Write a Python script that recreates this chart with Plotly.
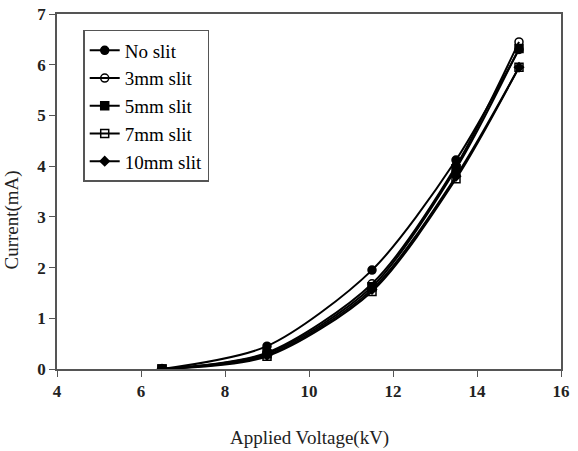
import plotly.graph_objects as go

voltage = [6.5, 9, 11.5, 13.5, 15]
no_slit = [0.0, 0.45, 1.95, 4.12, 6.30]
slit_3mm = [0.0, 0.32, 1.68, 4.00, 6.45]
slit_5mm = [0.0, 0.30, 1.62, 3.95, 6.32]
slit_7mm = [0.0, 0.25, 1.53, 3.75, 5.95]
slit_10mm = [0.0, 0.27, 1.57, 3.80, 5.95]

x_ticks = [4, 6, 8, 10, 12, 14, 16]
y_ticks = [0, 1, 2, 3, 4, 5, 6, 7]

names = ["No slit", "3mm slit", "5mm slit", "7mm slit", "10mm slit"]
series = [no_slit, slit_3mm, slit_5mm, slit_7mm, slit_10mm]
symbols = ["circle", "circle-open", "square", "square-open", "diamond"]
sizes = [8, 8, 8, 8, 7]

SERIF = "Times New Roman, Liberation Serif, serif"

fig = go.Figure()
for i, (nm, ys) in enumerate(zip(names, series)):
    fig.add_trace(go.Scatter(
        x=voltage, y=ys, name=nm, mode="lines+markers",
        line=dict(color="black", width=2, shape="spline", smoothing=0.8),
        marker=dict(symbol=symbols[i], size=sizes[i], color="black",
                    line=dict(color="black", width=1.5)),
        legendgroup=f"g{i}",
    ))

tick_font = dict(family=SERIF, size=17, color="#222", weight="bold")
fig.update_layout(
    width=578, height=451,
    margin=dict(l=57, r=17, t=14, b=82),
    paper_bgcolor="white", plot_bgcolor="white",
    font=dict(family=SERIF, color="black"),
    showlegend=True,
    legend=dict(
        x=0.052, y=0.955, xanchor="left", yanchor="top",
        bgcolor="white", bordercolor="#555", borderwidth=1.5,
        font=dict(family=SERIF, size=19, color="black"),
        tracegroupgap=0, itemwidth=30,
    ),
    xaxis=dict(
        range=[4, 16], tickvals=x_ticks, ticktext=[f"<b>{v}</b>" for v in x_ticks],
        ticks="outside", ticklen=6, tickcolor="#555",
        showgrid=False, zeroline=False, automargin=False,
        showline=True, linecolor="#555", linewidth=1.5, mirror=True,
        tickfont=tick_font,
    ),
    yaxis=dict(
        range=[0, 7], tickvals=y_ticks, ticktext=[f"<b>{v}</b>" for v in y_ticks],
        ticks="outside", ticklen=6, tickcolor="#555",
        showgrid=False, zeroline=False, automargin=False,
        showline=True, linecolor="#555", linewidth=1.5, mirror=True,
        tickfont=tick_font,
    ),
    annotations=[
        dict(text="Applied Voltage(kV)", xref="paper", yref="paper",
             x=0.50, y=-0.195, xanchor="center", yanchor="middle", showarrow=False,
             font=dict(family=SERIF, size=19, color="#222")),
        dict(text="Current(mA)", xref="paper", yref="paper",
             x=-0.09, y=0.42, xanchor="center", yanchor="middle", showarrow=False,
             textangle=-90,
             font=dict(family=SERIF, size=19, color="#222")),
    ],
)

fig.write_html("out.html")
